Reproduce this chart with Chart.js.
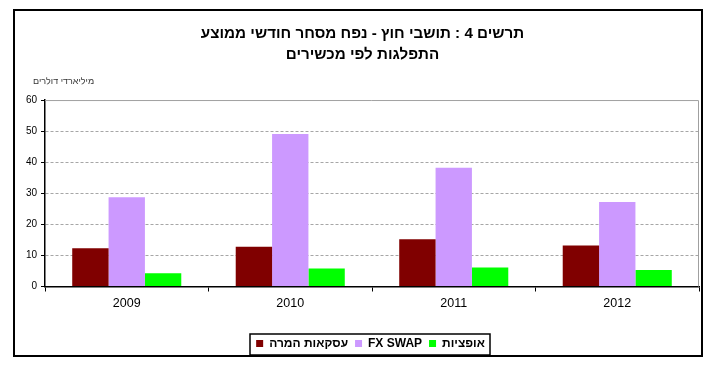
<!DOCTYPE html>
<html>
<head>
<meta charset="utf-8">
<script src="https://cdn.jsdelivr.net/npm/chart.js@4/dist/chart.umd.min.js"></script>
<style>
  body { margin: 0; background: #fff; }
  #myChart { direction: rtl; }
</style>
</head>
<body>
<canvas id="myChart" width="709" height="377"></canvas>
<script>
   // data (billions of dollars)
   years = ['2009', '2010', '2011', '2012'];
   conversions = [12.3, 12.8, 15.2, 13.2];
   fxSwap = [28.7, 49.1, 38.2, 27.2];
   optionsData = [4.3, 5.8, 6.1, 5.3];
   seriesNames = ['עסקאות המרה', 'FX SWAP', 'אופציות'];
   titleLines = ['תרשים 4 : תושבי חוץ - נפח מסחר חודשי ממוצע', 'התפלגות לפי מכשירים'];
   unitLabel = 'מיליארדי דולרים';

   const fontFam = "Arial, 'Liberation Sans', sans-serif";

   // outer frame, plot border on top/right, unit label, box around the legend
   const framePlugin = {
      id: 'frames',
      afterLayout(chart) {
         // legend sits a bit right of the centre in the original
         chart.legend.left += 8;
         chart.legend.right += 8;
      },
      afterDraw(chart) {
         const ctx = chart.ctx;
         const a = chart.chartArea;
         ctx.save();
         ctx.strokeStyle = '#a0a0a0';
         ctx.lineWidth = 1;
         ctx.beginPath();
         ctx.moveTo(a.left, a.top + 0.5);
         ctx.lineTo(a.right - 0.5, a.top + 0.5);
         ctx.lineTo(a.right - 0.5, a.bottom);
         ctx.stroke();

         ctx.strokeStyle = '#000';
         ctx.lineWidth = 2;
         ctx.strokeRect(14, 10, 688, 346);

         ctx.fillStyle = '#333';
         ctx.font = '9px ' + fontFam;
         ctx.textAlign = 'left';
         ctx.textBaseline = 'middle';
         ctx.fillText(unitLabel, 33, 82);

         const hb = chart.legend.legendHitBoxes;
         if (hb && hb.length) {
            let l = Math.min(...hb.map(h => h.left));
            let r = Math.max(...hb.map(h => h.left + h.width));
            let t = hb[0].top;
            ctx.lineWidth = 1.5;
            ctx.strokeRect(Math.round(l) - 6, Math.round(t) - 4, Math.round(r - l) + 11, 21);
         }
         ctx.restore();
      }
   };

   new Chart(document.getElementById('myChart'), {
      type: 'bar',
      data: {
         labels: years,
         datasets: [
            { label: seriesNames[0], data: conversions, backgroundColor: '#800000' },
            { label: seriesNames[1], data: fxSwap, backgroundColor: '#CC99FF' },
            { label: seriesNames[2], data: optionsData, backgroundColor: '#00FF00' }
         ]
      },
      options: {
         responsive: false,
         animation: false,
         layout: { padding: { left: 26, right: 10, top: 10, bottom: 17.5 } },
         datasets: { bar: { categoryPercentage: 0.667, barPercentage: 1 } },
         scales: {
            x: {
               afterFit: (s) => { s.height = 44; },
               grid: { drawOnChartArea: false, drawTicks: true, tickLength: 5, tickColor: '#000', offset: true },
               border: { color: '#000', width: 1.5 },
               ticks: { color: '#000', padding: 5, font: { family: fontFam, size: 12.5 } }
            },
            y: {
               min: 0, max: 60,
               afterFit: (s) => { s.width = 19; },
               grid: {
                  color: (c) => (c.tick.value === 0 || c.tick.value === 60) ? 'rgba(0,0,0,0)' : '#a6a6a6',
                  tickColor: '#000', tickLength: 4, drawTicks: true
               },
               border: { color: '#000', width: 1.5, dash: [3, 2] },
               ticks: { stepSize: 10, color: '#000', padding: 4, font: { family: fontFam, size: 10 } }
            }
         },
         plugins: {
            title: {
               display: true,
               text: titleLines,
               color: '#000',
               font: { family: fontFam, size: 15.2, weight: 'bold', lineHeight: 1.38 },
               padding: { top: 13.5, bottom: 34.6 }
            },
            legend: {
               position: 'bottom',
               labels: {
                  boxWidth: 7, boxHeight: 7, padding: 7, color: '#000',
                  font: { family: fontFam, size: 12, weight: 'bold' }
               }
            },
            tooltip: { enabled: false }
         }
      },
      plugins: [framePlugin]
   });
</script>
</body>
</html>
